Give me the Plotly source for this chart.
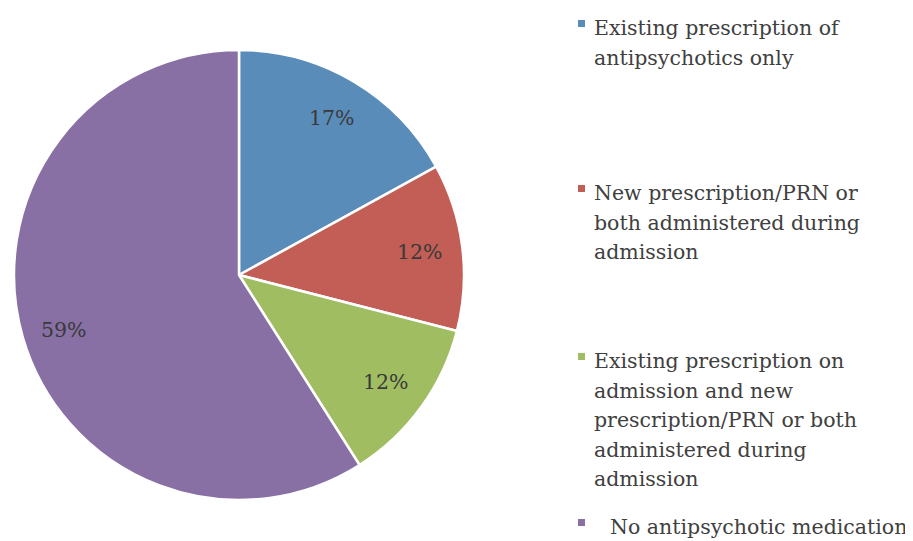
import math
import plotly.graph_objects as go

labels = [
    "Existing prescription of<br>antipsychotics only",
    "New prescription/PRN or<br>both administered during<br>admission",
    "Existing prescription on<br>admission and new<br>prescription/PRN or both<br>administered during<br>admission",
    "No antipsychotic medication",
]
values = [17, 12, 12, 59]
colors = ["#5A8CBA", "#C25E55", "#A0BD62", "#8870A4"]

W, H = 913, 541
OFF = 8  # page body margin
cx, cy, R = 239 - OFF, 275 - OFF, 225

fig = go.Figure()
fig.add_trace(go.Pie(
    labels=labels, values=values, sort=False, direction="clockwise", rotation=0,
    marker=dict(colors=colors, line=dict(color="white", width=2.5)),
    textinfo="none",
    domain=dict(x=[(cx - R) / W, (cx + R) / W], y=[(H - cy - R) / H, (H - cy + R) / H]),
    showlegend=False, hoverinfo="label+percent",
))

# percentage labels placed along each slice bisector
total = sum(values)
cum = 0
for v in values:
    mid = (cum + v / 2) / total * 2 * math.pi
    cum += v
    r = 0.81 * R
    lx = cx + r * math.sin(mid)
    ly = cy - r * math.cos(mid) + (4 if v > 50 else 0)
    fig.add_annotation(x=lx / W, y=1 - ly / H, xref="paper", yref="paper",
                       text=f"{round(v / total * 100)}%", showarrow=False,
                       xanchor="center", yanchor="middle",
                       font=dict(family="DejaVu Serif", size=20.5, color="#3a3a3a"))

# legend drawn as annotations + square markers
leg_x = 592 - OFF
leg_y = [28, 193, 361, 527]
line_h = 29.5
for i, (lab, col) in enumerate(zip(labels, colors)):
    y0 = leg_y[i] - OFF
    xoff = 16 if i == 3 else 0
    fig.add_shape(type="rect", xref="paper", yref="paper",
                  x0=(578 - OFF) / W, x1=(585 - OFF) / W,
                  y0=1 - (y0 - 1) / H, y1=1 - (y0 - 8) / H,
                  fillcolor=col, line=dict(width=0))
    for j, ln in enumerate(lab.split("<br>")):
        fig.add_annotation(x=(leg_x + xoff) / W, y=1 - (y0 + j * line_h) / H,
                           xref="paper", yref="paper", xanchor="left", yanchor="middle",
                           text=ln, showarrow=False,
                           font=dict(family="DejaVu Serif", size=20.5, color="#404040"))

fig.update_layout(width=W, height=H, margin=dict(l=0, r=0, t=0, b=0),
                  paper_bgcolor="white", plot_bgcolor="white")
fig.write_html("out.html")
